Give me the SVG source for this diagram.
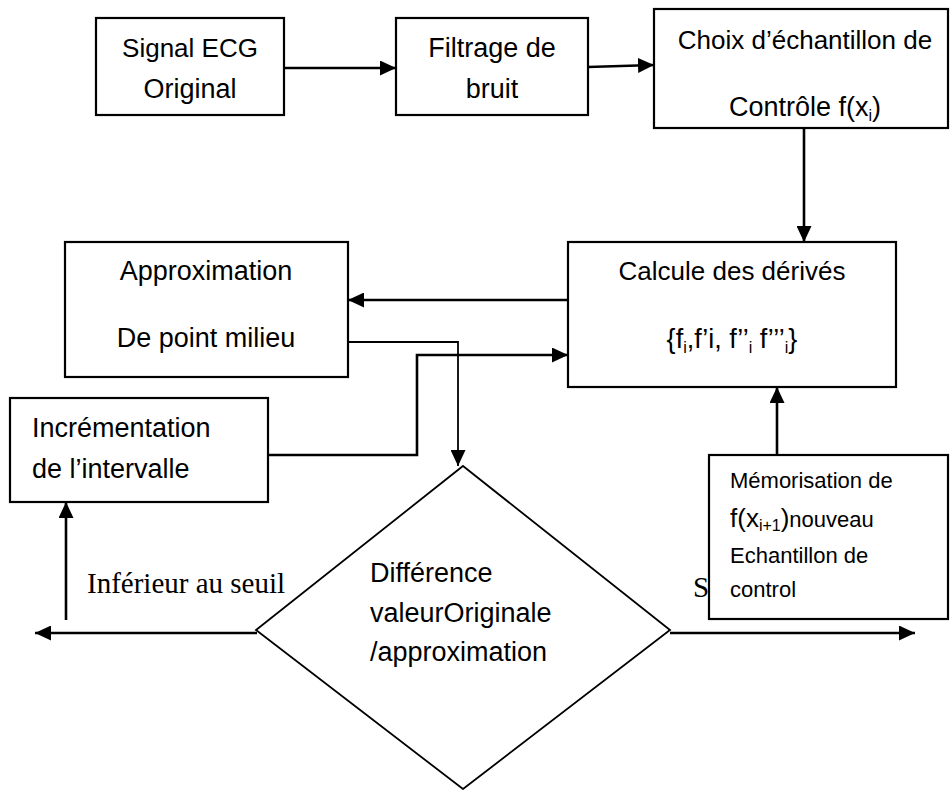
<svg xmlns="http://www.w3.org/2000/svg" width="952" height="790" viewBox="0 0 952 790">
  <style>
    .box { fill: #fff; stroke: #000; stroke-width: 2.2; }
    .dia { fill: #fff; stroke: #000; stroke-width: 1.8; }
    .ln { fill: none; stroke: #000; stroke-width: 2.6; }
    .thin { fill: none; stroke: #000; stroke-width: 1.8; }
    .t { font-family: "Liberation Sans", Arial, sans-serif; font-size: 27px; fill: #000; }
    .mid { text-anchor: middle; }
    .sm { font-size: 22px; }
    .sub { font-size: 16px; }
    .serif { font-family: "Liberation Serif", "Times New Roman", serif; font-size: 29px; fill: #000; }
  </style>
  <defs>
    <marker id="ah" viewBox="0 0 16 15" refX="16" refY="7.5" markerWidth="16" markerHeight="15" markerUnits="userSpaceOnUse" orient="auto">
      <path d="M0,0 L16,7.5 L0,15 z" fill="#000"/>
    </marker>
  </defs>

  <!-- connectors -->
  <g id="connectors">
    <path class="ln" d="M284,68 H396" marker-end="url(#ah)"/>
    <path class="ln" d="M588,67 L654,65" marker-end="url(#ah)"/>
    <path class="ln" d="M804,128 V242" marker-end="url(#ah)"/>
    <path class="ln" d="M568,300 H348" marker-end="url(#ah)"/>
    <path class="thin" d="M348,342 H458 V466" marker-end="url(#ah)"/>
    <path class="ln" d="M268,455 H417 V355 H568" marker-end="url(#ah)"/>
    <path class="ln" d="M777,455 V387" marker-end="url(#ah)"/>
    <path class="ln" d="M257,633 H35" marker-end="url(#ah)"/>
    <path class="ln" d="M66,620 V502" marker-end="url(#ah)"/>
    <path class="ln" d="M670,633 H915" marker-end="url(#ah)"/>
  </g>

  <!-- branch labels -->
  <text class="serif" x="87" y="593">Inférieur au seuil</text>
  <text class="serif" x="693" y="597">S</text>

  <g id="signal">
    <rect class="box" x="96" y="18" width="188" height="97"/>
    <text class="t mid" x="190" y="57" style="font-size:26px">Signal ECG</text>
    <text class="t mid" x="190" y="98">Original</text>
  </g>

  <g id="filtrage">
    <rect class="box" x="396" y="18" width="192" height="97"/>
    <text class="t mid" x="492" y="57">Filtrage de</text>
    <text class="t mid" x="492" y="98">bruit</text>
  </g>

  <g id="choix">
    <rect class="box" x="654" y="9" width="294" height="119"/>
    <text class="t mid" x="805" y="49" style="font-size:26px">Choix d’échantillon de</text>
    <text class="t mid" x="805" y="116">Contrôle f(x<tspan class="sub" dy="5">i</tspan><tspan dy="-5">)</tspan></text>
  </g>

  <g id="calcule">
    <rect class="box" x="568" y="242" width="328" height="145"/>
    <text class="t mid" x="732" y="280" style="font-size:26px">Calcule des dérivés</text>
    <text class="t mid" x="732" y="348">{f<tspan class="sub" dy="5">i</tspan><tspan dy="-5">,f’i, f’’</tspan><tspan class="sub" dy="5">i</tspan><tspan dy="-5"> f’’’</tspan><tspan class="sub" dy="5">i</tspan><tspan dy="-5">}</tspan></text>
  </g>

  <g id="approximation">
    <rect class="box" x="65" y="242" width="283" height="135"/>
    <text class="t mid" x="206" y="280">Approximation</text>
    <text class="t mid" x="206" y="347">De point milieu</text>
  </g>

  <g id="incrementation">
    <rect class="box" x="10" y="398" width="258" height="104"/>
    <text class="t" x="32" y="437">Incrémentation</text>
    <text class="t" x="32" y="478">de l’intervalle</text>
  </g>

  <g id="difference">
    <polygon class="dia" points="463,466 670,630 463,789 256,630"/>
    <text class="t" x="370" y="582">Différence</text>
    <text class="t" x="370" y="622">valeurOriginale</text>
    <text class="t" x="370" y="661">/approximation</text>
  </g>

  <g id="memorisation">
    <rect class="box" x="709" y="455" width="239" height="164"/>
    <text class="t sm" x="730" y="488">Mémorisation de</text>
    <text class="t" x="730" y="527" style="font-size:26px">f(x<tspan class="sub" dy="4">i+1</tspan><tspan dy="-4">)</tspan><tspan class="sm">nouveau</tspan></text>
    <text class="t sm" x="730" y="563">Echantillon de</text>
    <text class="t sm" x="730" y="597">control</text>
  </g>
</svg>
